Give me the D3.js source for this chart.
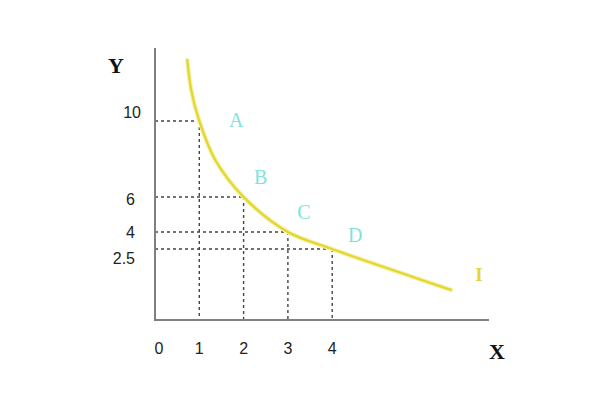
<!DOCTYPE html>
<html>
<head>
<meta charset="utf-8">
<script src="https://cdn.jsdelivr.net/npm/d3@7"></script>
<style>
  html, body { margin: 0; padding: 0; background: #fff; }
  svg { display: block; }
</style>
</head>
<body>
<svg id="chart" width="600" height="400"></svg>
<script>
// ---- data ----
const pointLabels = ["A", "B", "C", "D"];
const pointX = [1, 2, 3, 4];
const pointY = [10, 6, 4, 2.5];
const xTickValues = [0, 1, 2, 3, 4];
const yTickValues = [10, 6, 4, 2.5];
const yTickLabels = ["10", "6", "4", "2.5"];
// indifference curve I
const curveX = [0.73, 0.82, 1, 1.36, 2, 3, 4, 4.63, 5.53, 6.68];
const curveY = [13.2, 11.6, 10, 7.95, 6, 4, 2.5, 2.15, 1.67, 1.06];
const curveName = "I";

// ---- scales (the original figure is not drawn to scale on Y) ----
const x = d3.scaleLinear().domain([0, 1]).range([155, 199.3]);
const y = d3.scaleLinear().domain([0, 2.5, 4, 6, 10]).range([320, 249, 232, 197, 121]);

const svg = d3.select("#chart");

// dashed guides
const guides = svg.append("g").attr("stroke", "#444").attr("stroke-width", 1.4)
  .attr("stroke-dasharray", "3,3").attr("fill", "none");
pointX.forEach((px, i) => {
  guides.append("line").attr("x1", x(0)).attr("x2", x(px)).attr("y1", y(pointY[i])).attr("y2", y(pointY[i]));
  guides.append("line").attr("x1", x(px)).attr("x2", x(px)).attr("y1", y(pointY[i])).attr("y2", y(0));
});

// axes
svg.append("line").attr("x1", x(0)).attr("x2", x(0)).attr("y1", 48).attr("y2", y(0))
  .attr("stroke", "#808080").attr("stroke-width", 2);
svg.append("line").attr("x1", x(0) - 1).attr("x2", 489).attr("y1", y(0)).attr("y2", y(0))
  .attr("stroke", "#808080").attr("stroke-width", 2);

// tick labels
svg.append("g").selectAll("text").data(xTickValues).join("text")
  .attr("x", d => x(d) + (d === 0 ? 4 : 0)).attr("y", 354)
  .attr("text-anchor", "middle")
  .attr("font-family", "Liberation Sans, Arial, sans-serif").attr("font-size", 16)
  .attr("fill", "#222").text(d => d);

svg.append("g").selectAll("text").data(yTickValues).join("text")
  .attr("x", d => d === 10 ? 141 : 135)
  .attr("y", d => y(d) + 6 + (d === 10 ? -9 : d === 2.5 ? 9 : 0) + (d === 6 ? 2 : 0))
  .attr("text-anchor", "end")
  .attr("font-family", "Liberation Sans, Arial, sans-serif").attr("font-size", 16)
  .attr("fill", "#222").text((d, i) => yTickLabels[i]);

// axis names
svg.append("text").attr("x", 116).attr("y", 73).attr("text-anchor", "middle")
  .attr("font-family", "Liberation Serif, Times New Roman, serif").attr("font-weight", "bold")
  .attr("font-size", 22).attr("fill", "#111").text("Y");
svg.append("text").attr("x", 497).attr("y", 359).attr("text-anchor", "middle")
  .attr("font-family", "Liberation Serif, Times New Roman, serif").attr("font-weight", "bold")
  .attr("font-size", 22).attr("fill", "#111").text("X");

// curve
const curveData = curveX.map((cx, i) => [cx, curveY[i]]);
const line = d3.line().x(d => x(d[0])).y(d => y(d[1])).curve(d3.curveCatmullRom.alpha(0.5));
svg.append("path").datum(curveData).attr("d", line)
  .attr("fill", "none").attr("stroke", "#f5f0a8").attr("stroke-width", 4.5).attr("stroke-linecap", "round");
svg.append("path").datum(curveData).attr("d", line)
  .attr("fill", "none").attr("stroke", "#e2d72e").attr("stroke-width", 2.2).attr("stroke-linecap", "round");

svg.append("text").attr("x", x(curveX[curveX.length - 1]) + 28).attr("y", y(curveY[curveY.length - 1]) - 9)
  .attr("text-anchor", "middle")
  .attr("font-family", "Liberation Serif, Times New Roman, serif").attr("font-weight", "bold")
  .attr("font-size", 19).attr("fill", "#e3d53a").text(curveName);

// point labels
svg.append("g").selectAll("text").data(pointLabels).join("text")
  .attr("x", (d, i) => x(pointX[i]) + [37, 17, 16, 23][i])
  .attr("y", (d, i) => y(pointY[i]) + [6, -13, -13, -7][i])
  .attr("text-anchor", "middle")
  .attr("font-family", "Liberation Serif, Times New Roman, serif")
  .attr("font-size", 20).attr("fill", "#80e3dc").text(d => d);
</script>
</body>
</html>
